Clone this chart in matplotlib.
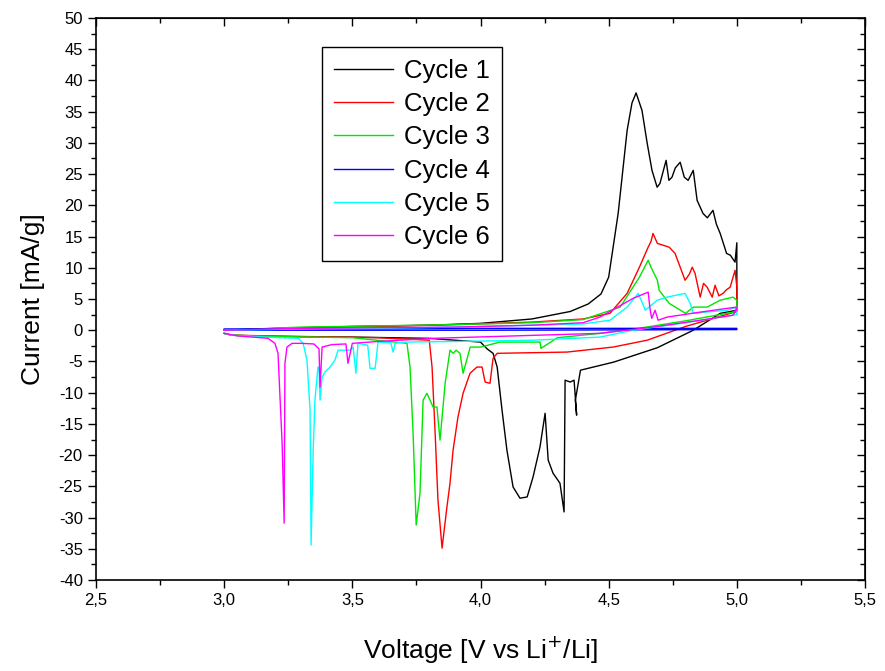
import matplotlib
matplotlib.use("Agg")
import matplotlib.pyplot as plt
from matplotlib.ticker import MultipleLocator, FuncFormatter

plt.rcParams["font.family"] = ["Liberation Sans", "DejaVu Sans"]

# cycle 1 (black): anodic sweep 3.0 -> 5.0, then cathodic 5.0 -> 3.0
c1_v = [3.00, 3.20, 3.50, 3.80, 4.00, 4.20, 4.35, 4.42, 4.47, 4.50, 4.537, 4.572, 4.591, 4.607,
        4.63, 4.65, 4.669, 4.689, 4.70, 4.724, 4.735, 4.747, 4.76, 4.779, 4.795, 4.81, 4.83,
        4.845, 4.868, 4.885, 4.907, 4.92, 4.935, 4.96, 4.975, 4.993, 5.00, 5.00,
        4.935, 4.83, 4.69, 4.52, 4.39, 4.37, 4.375, 4.365, 4.35, 4.33, 4.326, 4.31, 4.283,
        4.264, 4.252, 4.232, 4.205, 4.182, 4.154, 4.127, 4.103, 4.084, 4.065, 4.049, 4.026,
        4.00, 3.80, 3.50, 3.20, 3.03, 3.00]
c1_i = [0.0, 0.3, 0.6, 0.8, 1.1, 1.8, 3.0, 4.2, 5.8, 8.5, 18.7, 32.0, 36.4, 38.0,
        35.2, 30.0, 25.6, 22.9, 23.5, 27.2, 24.0, 24.5, 26.0, 26.9, 24.5, 24.0, 25.6,
        20.8, 18.7, 18.0, 19.2, 17.0, 15.5, 12.3, 12.0, 10.9, 14.0, 3.2,
        2.7, 0.0, -2.8, -5.1, -6.4, -11.2, -13.6, -8.0, -8.3, -8.0, -29.1, -24.5, -22.9,
        -20.8, -13.3, -18.7, -23.5, -26.7, -26.9, -25.1, -19.2, -12.8, -5.9, -3.7, -3.0,
        -1.9, -1.3, -1.1, -1.0, -0.8, -0.5]

# cycle 2 (red)
c2_v = [3.00, 3.30, 3.60, 3.90, 4.20, 4.40, 4.505, 4.572, 4.62, 4.654, 4.665, 4.673, 4.69,
        4.736, 4.759, 4.779, 4.798, 4.815, 4.826, 4.837, 4.857, 4.87, 4.884, 4.904, 4.915,
        4.93, 4.946, 4.96, 4.974, 4.993, 5.00, 5.00,
        4.80, 4.65, 4.517, 4.337, 4.065, 4.049, 4.037, 4.018, 4.006, 3.986, 3.959, 3.932,
        3.912, 3.893, 3.881, 3.869, 3.85, 3.834, 3.823, 3.811, 3.80, 3.60, 3.30, 3.03, 3.00]
c2_i = [0.0, 0.4, 0.6, 0.9, 1.3, 1.8, 2.7, 5.9, 10.1, 13.3, 14.2, 15.5, 13.9,
        13.3, 12.3, 10.1, 8.0, 9.0, 10.1, 9.1, 5.3, 7.5, 6.9, 5.3, 7.2,
        5.5, 5.9, 6.5, 6.9, 9.6, 6.9, 3.0,
        0.6, -1.6, -2.7, -3.5, -3.7, -4.5, -8.5, -8.3, -5.9, -5.9, -6.9, -10.1,
        -13.9, -19.2, -24.5, -28.3, -34.9, -27.2, -16.5, -5.9, -1.6, -1.2, -1.0, -0.8, -0.5]

# cycle 3 (green)
c3_v = [3.00, 3.30, 3.60, 3.90, 4.20, 4.40, 4.545, 4.62, 4.654, 4.665, 4.69, 4.697, 4.736,
        4.80, 4.83, 4.884, 4.935, 4.985, 5.00, 5.00,
        4.80, 4.60, 4.466, 4.30, 4.236, 4.232, 4.076, 4.00, 3.96, 3.932, 3.92, 3.905, 3.893,
        3.881, 3.862, 3.842, 3.83, 3.815, 3.791, 3.776, 3.764, 3.749, 3.737, 3.725, 3.713,
        3.50, 3.20, 3.03, 3.00]
c3_i = [0.0, 0.5, 0.7, 0.9, 1.2, 1.7, 3.7, 8.5, 11.2, 10.1, 8.0, 6.4, 4.3,
        2.7, 3.7, 3.7, 4.8, 5.3, 4.8, 3.0,
        1.5, 0.2, -0.5, -1.2, -2.9, -1.9, -1.9, -2.7, -2.7, -6.9, -3.7, -3.2, -3.7,
        -3.2, -8.5, -17.6, -12.3, -12.3, -10.1, -11.2, -26.1, -31.2, -16.5, -5.9, -2.1,
        -1.2, -1.0, -0.8, -0.5]

# cycle 4 (blue)
c4_v = [3.00, 3.50, 4.00, 4.50, 5.00, 5.00, 4.50, 4.00, 3.50, 3.00]
c4_i = [0.2, 0.25, 0.3, 0.3, 0.3, 0.1, 0.05, 0.0, 0.0, 0.0]

# cycle 5 (cyan)
c5_v = [3.00, 3.30, 3.60, 3.90, 4.20, 4.40, 4.505, 4.572, 4.615, 4.63, 4.643, 4.689, 4.728,
        4.798, 4.818, 4.83, 4.88, 4.962, 5.00, 5.00,
        4.80, 4.595, 4.466, 4.205, 3.90, 3.70, 3.667, 3.659, 3.65, 3.60, 3.589, 3.569, 3.56,
        3.522, 3.514, 3.503, 3.491, 3.444, 3.432, 3.413, 3.393, 3.382, 3.374, 3.37, 3.366,
        3.354, 3.347, 3.339, 3.335, 3.323, 3.308, 3.29, 3.10, 3.03, 3.00]
c5_i = [0.0, 0.2, 0.3, 0.5, 0.8, 1.0, 1.6, 3.7, 5.9, 4.5, 3.2, 4.8, 5.3,
        5.9, 4.3, 2.7, 2.9, 3.2, 3.7, 2.5,
        1.2, 0.0, -1.1, -1.6, -1.8, -1.9, -2.1, -3.5, -2.0, -1.9, -6.1, -6.1, -2.4,
        -2.1, -6.9, -2.7, -3.2, -3.2, -4.8, -5.9, -6.7, -7.5, -11.2, -6.0, -5.9,
        -11.2, -19.7, -34.4, -12.8, -4.8, -2.1, -1.3, -1.0, -0.8, -0.5]

# cycle 6 (magenta)
c6_v = [3.00, 3.30, 3.60, 3.90, 4.20, 4.40, 4.466, 4.595, 4.654, 4.662, 4.668, 4.681, 4.693,
        4.728, 4.857, 4.962, 5.00, 4.99, 5.00,
        4.985, 4.857, 4.673, 4.466, 3.815, 3.60, 3.50, 3.483, 3.475, 3.42, 3.382, 3.374,
        3.37, 3.35, 3.30, 3.265, 3.245, 3.237, 3.234, 3.226, 3.21, 3.198, 3.171, 3.05, 3.00]
c6_i = [0.0, 0.3, 0.4, 0.5, 0.8, 1.2, 2.1, 5.1, 6.1, 3.2, 1.9, 3.2, 1.6,
        2.1, 2.9, 3.5, 3.7, 2.8, 3.4,
        2.4, 1.6, 0.5, -0.5, -1.3, -1.8, -2.1, -5.3, -2.2, -2.3, -2.7, -9.1,
        -3.0, -2.2, -2.1, -2.1, -2.7, -5.3, -30.9, -18.1, -3.7, -2.1, -1.3, -0.9, -0.5]

series = [
    (c1_v, c1_i, "black", "Cycle 1"),
    (c2_v, c2_i, "#ff0000", "Cycle 2"),
    (c3_v, c3_i, "#00e600", "Cycle 3"),
    (c4_v, c4_i, "#0000ff", "Cycle 4"),
    (c5_v, c5_i, "#00ffff", "Cycle 5"),
    (c6_v, c6_i, "#ff00ff", "Cycle 6"),
]

fig = plt.figure(figsize=(8.85, 6.71), dpi=100)
ax = fig.add_axes([0.1085, 0.1356, 0.8689, 0.8376])

for v, i, col, lab in series:
    ax.plot(v, i, color=col, linewidth=1.0, label=lab)

ax.set_xlim(2.5, 5.5)
ax.set_ylim(-40, 50)
ax.xaxis.set_major_locator(MultipleLocator(0.5))
ax.xaxis.set_minor_locator(MultipleLocator(0.25))
ax.yaxis.set_major_locator(MultipleLocator(5))
ax.yaxis.set_minor_locator(MultipleLocator(2.5))
ax.xaxis.set_major_formatter(FuncFormatter(lambda x, p: f"{x:.1f}".replace(".", ",")))
ax.yaxis.set_major_formatter(FuncFormatter(lambda y, p: f"{y:.0f}"))
ax.tick_params(which="major", direction="out", length=6, width=1.0, labelsize=12)
ax.tick_params(which="minor", direction="out", length=3.5, width=1.0)
for s in ax.spines.values():
    s.set_linewidth(1.2)

# mirrored inward ticks on top and right
top = ax.secondary_xaxis("top")
top.xaxis.set_major_locator(MultipleLocator(0.5))
top.xaxis.set_minor_locator(MultipleLocator(0.25))
top.tick_params(which="major", direction="in", length=6, width=1.0, labeltop=False)
top.tick_params(which="minor", direction="in", length=3.5, width=1.0)
right = ax.secondary_yaxis("right")
right.yaxis.set_major_locator(MultipleLocator(5))
right.yaxis.set_minor_locator(MultipleLocator(2.5))
right.tick_params(which="major", direction="in", length=6, width=1.0, labelright=False)
right.tick_params(which="minor", direction="in", length=3.5, width=1.0)

ax.set_xlabel("Voltage [V vs Li$^{+}$/Li]", fontsize=19, labelpad=19)
ax.set_ylabel("Current [mA/g]", fontsize=19, labelpad=10)

leg = ax.legend(loc="upper left", bbox_to_anchor=(0.294, 0.948), borderaxespad=0,
                fontsize=18.5, frameon=True, fancybox=False, framealpha=1,
                edgecolor="black", handlelength=2.3, handletextpad=0.45,
                labelspacing=0.36, borderpad=0.45)
leg.get_frame().set_linewidth(1.0)

fig.savefig("out.png", dpi=100)
